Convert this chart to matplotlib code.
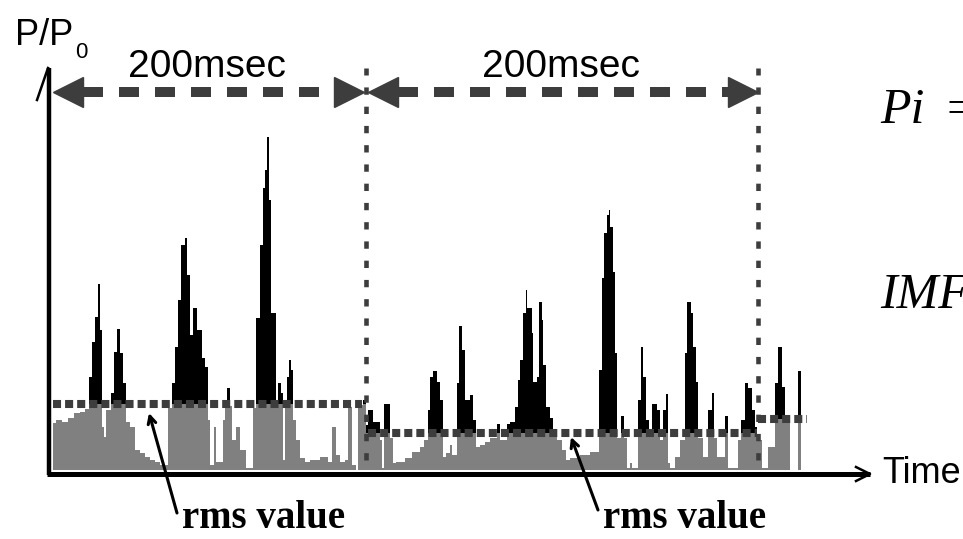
# Schematic of a pressure trace P/P0 over two 200 msec windows,
# with the rms level of each window splitting the trace into gray (below) and black (above).

import numpy as np
import matplotlib.pyplot as plt
from matplotlib import font_manager

# pick a condensed sans face if available
names = {f.name for f in font_manager.fontManager.ttflist}
NARROW = 'Liberation Sans Narrow' if 'Liberation Sans Narrow' in names else 'Liberation Sans'
HAS_NARROW = NARROW == 'Liberation Sans Narrow'

# trace, first window: segment edges (time, arbitrary units) and P/P0 per segment
first_edges = [3, 6, 12, 18, 24, 30, 35, 39, 42, 45, 48, 50, 52, 54, 56, 61, 64, 67, 70, 73,
               76, 80, 85, 90, 95, 100, 105, 110, 118, 122, 125, 128, 131, 135, 137, 140, 143, 147, 152, 155,
               158, 160, 164, 166, 173, 175, 177, 180, 182, 186, 190, 196, 203, 206, 210, 213, 215, 217, 219, 221,
               226, 228, 231, 233, 235, 237, 239, 241, 243, 246, 250, 255, 260, 270, 278, 282, 286, 290, 295, 298,
               302, 306, 308, 313, 316]
first_p = [.47, .50, .48, .52, .57, .58, .61, .93, 1.28, 1.53, 1.86, 1.40, .43, .33, .60, .77, 1.18, 1.41, 1.17, .87,
           .48, .43, .20, .17, .13, .10, .08, .05, .62, .87, 1.23, 1.70, 2.25, 2.32, 1.95, 1.35, 1.62, 1.40, 1.12, 1.03,
           .50, .05, .43, .08, .50, .66, .82, .64, .30, .43, .20, .02, .62, 1.52, 2.25, 2.82, 3.00, 3.33, 2.70, 1.57,
           .62, .87, .77, .10, .62, .93, 1.10, 1.00, .50, .30, .12, .08, .10, .13, .08, .43, .15, .08, .10, .63,
           .05, 0, .65, .70]

# trace, second window (edges continue from 316)
second_edges = [318, 323, 330, 332, 334, 340, 343, 346, 355, 362, 370, 374, 378, 380, 383, 387, 390, 393, 396, 400,
                402, 407, 409, 412, 415, 420, 423, 426, 430, 435, 440, 447, 450, 457, 460, 465, 468, 470, 473, 476,
                477, 482, 483, 487, 489, 492, 493, 496, 500, 503, 507, 512, 516, 520, 530, 540, 549, 552, 554, 557,
                559, 560, 563, 565, 567, 571, 574, 577, 580, 582, 588, 591, 593, 596, 599, 602, 607, 610, 613, 616,
                618, 620, 625, 630, 635, 637, 641, 643, 646, 648, 653, 658, 662, 664, 667, 675, 678, 688, 691, 695,
                698, 702, 705, 707, 712, 718, 725, 728, 732, 735, 740, 748, 751]
second_p = [.45, .60, .48, .30, .02, .66, .32, .07, .08, .12, .18, .23, .30, .60, .93, .99, .88, .70, .13, .17,
            .25, .15, .87, 1.44, 1.20, .70, .75, .50, .23, .25, .28, .32, .46, .30, .46, .48, .63, .90, 1.10, 1.57,
            1.80, 1.62, 1.37, .88, .93, 1.68, 1.50, 1.05, .63, .52, .40, .30, .20, .10, .12, .15, .18, 1.00, 1.92, 2.37,
            2.55, 2.60, 2.43, 1.98, 1.17, .32, .54, .32, .02, .07, .02, .70, 1.23, .93, .50, .33, .66, .60, .30, .60,
            .76, .07, .02, .13, .30, 1.17, 1.68, 1.57, 1.23, .88, .32, .13, .60, .77, .32, .13, .54, .02, .30, .50,
            .87, .82, .60, .43, .30, .02, .23, .87, 1.23, .83, .47, 0, .99]

# rms levels and where each one applies
rms_edges = [3, 316, 708, 757]
rms_levels = [0.66, 0.37, 0.51]
window_marks = [316, 708]   # dotted dividers, 200 msec apart

edges = np.array(first_edges + second_edges, dtype=float)
p = np.array(first_p + second_p)
mid = 0.5 * (edges[:-1] + edges[1:])
idx = np.clip(np.searchsorted(rms_edges, mid) - 1, 0, len(rms_levels) - 1)
rms = np.array(rms_levels)[idx]

DARK = '#3d3d3d'

fig = plt.figure(figsize=(9.63, 5.39), dpi=100)
ax = fig.add_axes([50 / 963, 66 / 539, 820 / 963, 405 / 539])
ax.set_xlim(0, 820)
ax.set_ylim(-0.03, 4.02)
ax.axis('off')

# trace: gray part below rms, black part above it
ax.stairs(np.minimum(p, rms), edges, fill=True, color='#808080', baseline=0)
ax.stairs(np.maximum(p, rms), edges, fill=True, color='black', baseline=rms)

# rms lines
for (a, b), lev in zip([(3, 312), (318, 707), (708, 757)], rms_levels):
    ax.plot([a, b], [lev, lev], color=DARK, lw=5.8, ls=(0, (1, 0.5)), zorder=5)

# window dividers
for x in window_marks:
    ax.plot([x, x], [0.10, 4.02], color=DARK, lw=3.3, ls=(0, (1.6, 2.6)), zorder=5, clip_on=False)

# 200 msec double arrows
label_size = 32 if HAS_NARROW else 28
bounds = [(3, window_marks[0] - 2), (window_marks[0] + 2, window_marks[1])]
for a, b in bounds:
    ax.plot([a + 30, b - 30], [3.78, 3.78], color=DARK, lw=7.2, ls=(0, (2.0, 1.6)), clip_on=False)
    ax.plot([a + 15], [3.78], marker='<', ms=22, color=DARK, mec=DARK, clip_on=False)
    ax.plot([b - 15], [3.78], marker='>', ms=22, color=DARK, mec=DARK, clip_on=False)
    ax.text((a + b) / 2 - 2, 3.93, '200msec', family=[NARROW, 'DejaVu Sans'], fontsize=label_size,
            ha='center', va='baseline')

# axes with arrows
ax.plot([-1, -1], [-0.05, 4.02], color='black', lw=3.2, clip_on=False, solid_capstyle='butt')
ax.plot([-13, -2], [3.70, 4.02], color='black', lw=1.8, clip_on=False)
ax.plot([-3, 820], [-0.04, -0.04], color='black', lw=3.6, clip_on=False, solid_capstyle='butt')
ax.plot([806, 820, 806], [0.03, -0.04, -0.11], color='black', lw=1.8, clip_on=False)

ax.text(-35, 4.25, 'P/P', family=[NARROW, 'DejaVu Sans'], fontsize=26, va='baseline')
ax.text(25, 4.12, '0', family=[NARROW, 'DejaVu Sans'], fontsize=16, va='baseline')
ax.text(832, -0.13, 'Time', family='Liberation Sans', fontsize=26, va='baseline')

# rms annotations
for tip, tail in [((99, 0.57), (127, -0.43)), ((521, 0.33), (548, -0.40))]:
    ax.annotate('', xy=tip, xytext=tail, annotation_clip=False,
                arrowprops=dict(arrowstyle='->,head_length=0.55,head_width=0.28', lw=2.2,
                                color='black', shrinkA=0, shrinkB=0))
    ax.text(tail[0] + 5, -0.58, 'rms value', family='Liberation Serif', fontweight='bold',
            fontsize=28, va='baseline')

# formulas cut by the right edge
ax.text(830, 3.47, 'Pi', family='Liberation Serif', style='italic', fontsize=36, va='baseline')
ax.text(896, 3.47, '=', family='Liberation Serif', fontsize=36, va='baseline')
ax.text(830, 1.62, 'IMF', family='Liberation Serif', style='italic', fontsize=36, va='baseline')

fig.savefig('out.png', dpi=100)
